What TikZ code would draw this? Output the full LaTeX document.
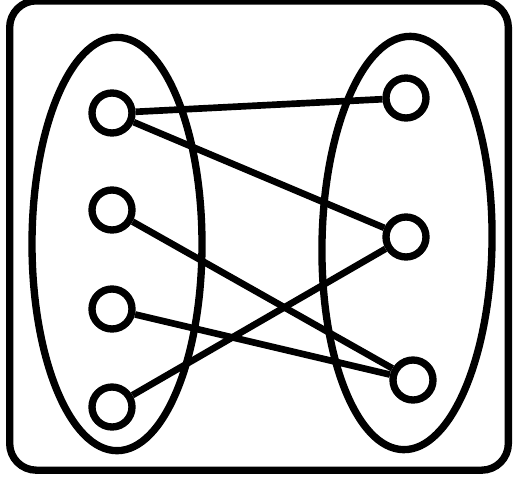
\documentclass[tikz,border=0pt]{standalone}
\usetikzlibrary{shapes.geometric}
\begin{document}
\begin{tikzpicture}[x=0.75pt,y=-0.75pt,
  vert/.style={circle,draw=black,fill=white,line width=5.5pt,minimum size=30pt,inner sep=0pt},
  group/.style={ellipse,draw=black,line width=5.5pt,minimum width=127.5pt,minimum height=310pt,inner sep=0pt},
  edge/.style={draw=black,line width=5pt},
  frame/.style={draw=black,line width=5.5pt,rounded corners=20pt}]
\useasboundingbox (0,0) rectangle (513,479);
\node[frame,minimum width=374pt,minimum height=352pt,inner sep=0pt] (box) at (259,235.5) {};
\node[group] (A) at (117,244) {};
\node[group,rotate=-1] (B) at (407,243) {};
\node[vert] (l1) at (112,113) {};
\node[vert] (l2) at (112,210) {};
\node[vert] (l3) at (112,309) {};
\node[vert] (l4) at (112,407) {};
\node[vert] (r1) at (406,98) {};
\node[vert] (r2) at (406,237) {};
\node[vert] (r3) at (413,380) {};
\draw[edge] (l1) -- (r1);
\draw[edge] (l1) -- (r2);
\draw[edge] (l2) -- (r3);
\draw[edge] (l3) -- (r3);
\draw[edge] (l4) -- (r2);
\end{tikzpicture}
\end{document}
